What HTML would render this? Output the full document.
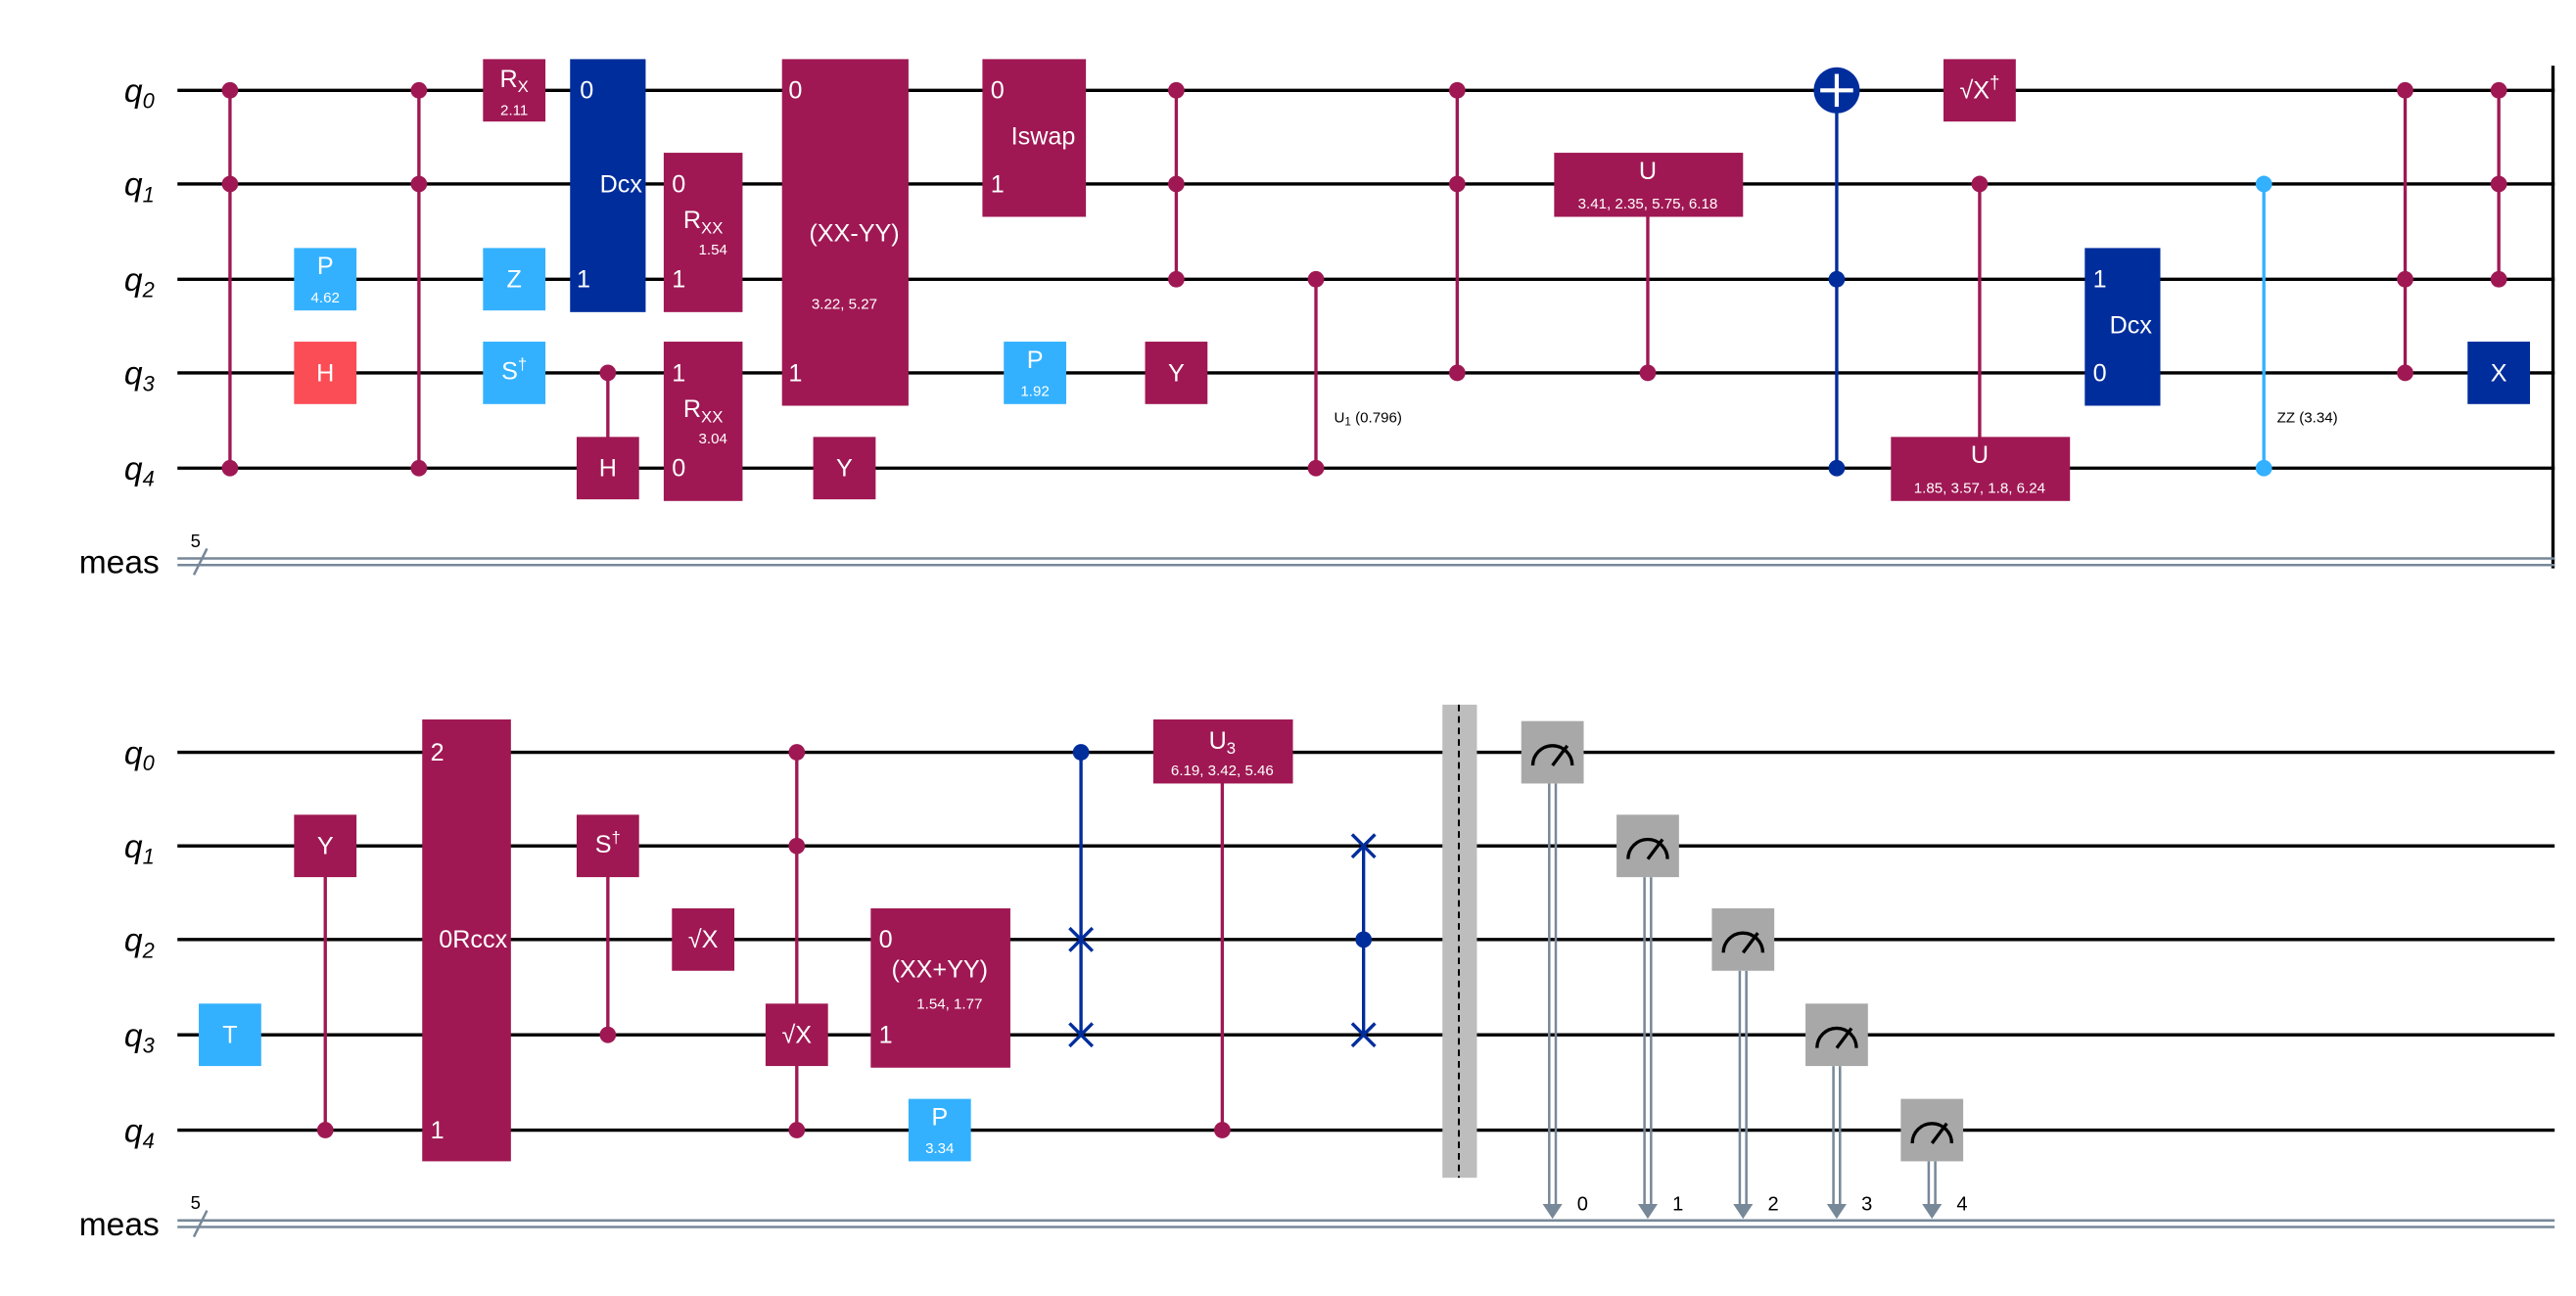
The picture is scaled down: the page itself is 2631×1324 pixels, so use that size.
<!DOCTYPE html>
<html><head><meta charset="utf-8"><style>
html,body{margin:0;padding:0;background:#fff;width:2631px;height:1324px;overflow:hidden}
svg{display:block}
text{font-family:"Liberation Sans","DejaVu Sans",sans-serif}
</style></head><body>
<svg width="2631" height="1324" viewBox="0 0 1568 789" preserveAspectRatio="none" xmlns="http://www.w3.org/2000/svg">
<rect width="1568" height="789" fill="#fff"/>
<g stroke="#000" stroke-width="2">
<line x1="108" y1="55" x2="1555" y2="55"/><line x1="108" y1="112" x2="1555" y2="112"/><line x1="108" y1="170" x2="1555" y2="170"/><line x1="108" y1="227" x2="1555" y2="227"/><line x1="108" y1="285" x2="1555" y2="285"/>
<line x1="108" y1="458" x2="1555" y2="458"/><line x1="108" y1="515" x2="1555" y2="515"/><line x1="108" y1="572" x2="1555" y2="572"/><line x1="108" y1="630" x2="1555" y2="630"/><line x1="108" y1="688" x2="1555" y2="688"/>
<line x1="1554" y1="40" x2="1554" y2="346"/>
</g>
<g stroke="#778899" stroke-width="1.5">
<line x1="108" y1="340" x2="1555" y2="340"/><line x1="108" y1="344" x2="1555" y2="344"/>
<line x1="108" y1="743" x2="1555" y2="743"/><line x1="108" y1="747" x2="1555" y2="747"/>
<line x1="118" y1="350" x2="126" y2="334"/><line x1="118" y1="753" x2="126" y2="737"/>
</g>
<g font-size="20" font-style="italic" text-anchor="end">
<text x="94" y="62">q<tspan font-size="13" dy="4">0</tspan></text>
<text x="94" y="119">q<tspan font-size="13" dy="4">1</tspan></text>
<text x="94" y="177">q<tspan font-size="13" dy="4">2</tspan></text>
<text x="94" y="234">q<tspan font-size="13" dy="4">3</tspan></text>
<text x="94" y="292">q<tspan font-size="13" dy="4">4</tspan></text>
<text x="94" y="465">q<tspan font-size="13" dy="4">0</tspan></text>
<text x="94" y="522">q<tspan font-size="13" dy="4">1</tspan></text>
<text x="94" y="579">q<tspan font-size="13" dy="4">2</tspan></text>
<text x="94" y="637">q<tspan font-size="13" dy="4">3</tspan></text>
<text x="94" y="695">q<tspan font-size="13" dy="4">4</tspan></text>
</g>
<g font-size="20" text-anchor="end"><text x="97" y="349">meas</text><text x="97" y="752">meas</text></g>
<g font-size="11"><text x="116" y="333">5</text><text x="116" y="736">5</text></g>

<!-- connectors -->
<g stroke="#9f1853" stroke-width="2">
<line x1="140" y1="55" x2="140" y2="285"/><line x1="255" y1="55" x2="255" y2="285"/>
<line x1="370" y1="227" x2="370" y2="285"/><line x1="716" y1="55" x2="716" y2="170"/>
<line x1="801" y1="170" x2="801" y2="285"/><line x1="887" y1="55" x2="887" y2="227"/>
<line x1="1003" y1="112" x2="1003" y2="227"/><line x1="1205" y1="112" x2="1205" y2="285"/>
<line x1="1464" y1="55" x2="1464" y2="227"/><line x1="1521" y1="55" x2="1521" y2="170"/>
<line x1="198" y1="515" x2="198" y2="688"/><line x1="370" y1="515" x2="370" y2="630"/>
<line x1="485" y1="458" x2="485" y2="688"/><line x1="744" y1="458" x2="744" y2="688"/>
</g>
<line x1="1118" y1="55" x2="1118" y2="285" stroke="#002d9c" stroke-width="2"/>
<line x1="1378" y1="112" x2="1378" y2="285" stroke="#33b1ff" stroke-width="2"/>
<line x1="658" y1="458" x2="658" y2="630" stroke="#002d9c" stroke-width="2"/>
<line x1="830" y1="515" x2="830" y2="630" stroke="#002d9c" stroke-width="2"/>

<!-- dots -->
<g fill="#9f1853">
<circle cx="140" cy="55" r="5"/><circle cx="140" cy="112" r="5"/><circle cx="140" cy="285" r="5"/>
<circle cx="255" cy="55" r="5"/><circle cx="255" cy="112" r="5"/><circle cx="255" cy="285" r="5"/>
<circle cx="370" cy="227" r="5"/>
<circle cx="716" cy="55" r="5"/><circle cx="716" cy="112" r="5"/><circle cx="716" cy="170" r="5"/>
<circle cx="801" cy="170" r="5"/><circle cx="801" cy="285" r="5"/>
<circle cx="887" cy="55" r="5"/><circle cx="887" cy="112" r="5"/><circle cx="887" cy="227" r="5"/>
<circle cx="1003" cy="227" r="5"/><circle cx="1205" cy="112" r="5"/>
<circle cx="1464" cy="55" r="5"/><circle cx="1464" cy="170" r="5"/><circle cx="1464" cy="227" r="5"/>
<circle cx="1521" cy="55" r="5"/><circle cx="1521" cy="112" r="5"/><circle cx="1521" cy="170" r="5"/>
<circle cx="198" cy="688" r="5"/><circle cx="370" cy="630" r="5"/>
<circle cx="485" cy="458" r="5"/><circle cx="485" cy="515" r="5"/><circle cx="485" cy="688" r="5"/>
<circle cx="744" cy="688" r="5"/>
</g>
<g fill="#002d9c"><circle cx="1118" cy="170" r="5"/><circle cx="1118" cy="285" r="5"/><circle cx="658" cy="458" r="5"/><circle cx="830" cy="572" r="5"/></g>
<g fill="#33b1ff"><circle cx="1378" cy="112" r="5"/><circle cx="1378" cy="285" r="5"/></g>

<!-- boxes -->
<g>
<rect x="179" y="151" width="38" height="38" fill="#33b1ff"/>
<rect x="179" y="208" width="38" height="38" fill="#fa4d56"/>
<rect x="294" y="36" width="38" height="38" fill="#9f1853"/>
<rect x="294" y="151" width="38" height="38" fill="#33b1ff"/>
<rect x="294" y="208" width="38" height="38" fill="#33b1ff"/>
<rect x="347" y="36" width="46" height="154" fill="#002d9c"/>
<rect x="351" y="266" width="38" height="38" fill="#9f1853"/>
<rect x="404" y="93" width="48" height="97" fill="#9f1853"/>
<rect x="404" y="208" width="48" height="97" fill="#9f1853"/>
<rect x="476" y="36" width="77" height="211" fill="#9f1853"/>
<rect x="495" y="266" width="38" height="38" fill="#9f1853"/>
<rect x="598" y="36" width="63" height="96" fill="#9f1853"/>
<rect x="611" y="208" width="38" height="38" fill="#33b1ff"/>
<rect x="697" y="208" width="38" height="38" fill="#9f1853"/>
<rect x="946" y="93" width="115" height="39" fill="#9f1853"/>
<rect x="1183" y="36" width="44" height="38" fill="#9f1853"/>
<rect x="1151" y="266" width="109" height="39" fill="#9f1853"/>
<rect x="1269" y="151" width="46" height="96" fill="#002d9c"/>
<rect x="1502" y="208" width="38" height="38" fill="#002d9c"/>
<rect x="121" y="611" width="38" height="38" fill="#33b1ff"/>
<rect x="179" y="496" width="38" height="38" fill="#9f1853"/>
<rect x="257" y="438" width="54" height="269" fill="#9f1853"/>
<rect x="351" y="496" width="38" height="38" fill="#9f1853"/>
<rect x="409" y="553" width="38" height="38" fill="#9f1853"/>
<rect x="466" y="611" width="38" height="38" fill="#9f1853"/>
<rect x="530" y="553" width="85" height="97" fill="#9f1853"/>
<rect x="553" y="669" width="38" height="38" fill="#33b1ff"/>
<rect x="702" y="438" width="85" height="39" fill="#9f1853"/>
</g>
<circle cx="1118" cy="55" r="14" fill="#002d9c"/>
<g stroke="#fff" stroke-width="2.5"><line x1="1108" y1="55" x2="1128" y2="55"/><line x1="1118" y1="45" x2="1118" y2="65"/></g>
<g stroke="#002d9c" stroke-width="2">
<path d="M651 565l14 14M665 565l-14 14M651 623l14 14M665 623l-14 14M823 508l14 14M837 508l-14 14M823 623l14 14M837 623l-14 14"/>
</g>

<!-- box labels -->
<g fill="#fff" font-size="15" text-anchor="middle">
<text x="198" y="167">P</text><text x="198" y="232">H</text>
<text x="313" y="53">R<tspan font-size="10" dy="3">X</tspan></text>
<text x="313" y="175">Z</text><text x="313" y="231">S<tspan font-size="10" dy="-6">†</tspan></text>
<text x="378" y="117">Dcx</text><text x="370" y="290">H</text>
<text x="428" y="139">R<tspan font-size="10" dy="3">XX</tspan></text>
<text x="428" y="254">R<tspan font-size="10" dy="3">XX</tspan></text>
<text x="520" y="147">(XX-YY)</text>
<text x="514" y="290">Y</text>
<text x="635" y="88">Iswap</text>
<text x="630" y="224">P</text><text x="716" y="232">Y</text>
<text x="1003" y="109">U</text><text x="1205" y="282">U</text>
<text x="1205" y="60">√X<tspan font-size="11" dy="-6">†</tspan></text>
<text x="1297" y="203">Dcx</text><text x="1521" y="232">X</text>
<text x="140" y="635">T</text><text x="198" y="520">Y</text>
<text x="288" y="577">0Rccx</text>
<text x="370" y="519">S<tspan font-size="10" dy="-6">†</tspan></text>
<text x="428" y="577">√X</text><text x="485" y="635">√X</text>
<text x="572" y="595">(XX+YY)</text>
<text x="572" y="685">P</text>
<text x="744" y="456">U<tspan font-size="10" dy="3">3</tspan></text>
</g>
<g fill="#fff" font-size="15">
<text x="353" y="60">0</text><text x="351" y="175">1</text>
<text x="409" y="117">0</text><text x="409" y="175">1</text>
<text x="409" y="232">1</text><text x="409" y="290">0</text>
<text x="480" y="60">0</text><text x="480" y="232">1</text>
<text x="603" y="60">0</text><text x="603" y="117">1</text>
<text x="1274" y="175">1</text><text x="1274" y="232">0</text>
<text x="262" y="463">2</text><text x="262" y="693">1</text>
<text x="535" y="577">0</text><text x="535" y="635">1</text>
</g>
<g fill="#fff" font-size="9" text-anchor="middle">
<text x="198" y="184">4.62</text><text x="313" y="70">2.11</text>
<text x="434" y="155">1.54</text><text x="434" y="270">3.04</text>
<text x="514" y="188">3.22, 5.27</text><text x="630" y="241">1.92</text>
<text x="1003" y="127">3.41, 2.35, 5.75, 6.18</text>
<text x="1205" y="300">1.85, 3.57, 1.8, 6.24</text>
<text x="578" y="614">1.54, 1.77</text><text x="572" y="702">3.34</text>
<text x="744" y="472">6.19, 3.42, 5.46</text>
</g>
<g font-size="9"><text x="812" y="257">U<tspan font-size="7" dy="2">1</tspan><tspan dy="-2"> (0.796)</tspan></text><text x="1386" y="257">ZZ (3.34)</text></g>

<!-- barrier -->
<rect x="878" y="429" width="21" height="288" fill="#bdbdbd"/>
<line x1="888" y1="429" x2="888" y2="717" stroke="#000" stroke-width="1.2" stroke-dasharray="4,3"/>

<!-- measures -->
<g>
<g id="m0">
</g>
</g>
<g stroke="#778899" stroke-width="1.5" fill="none">
<path d="M943 477V735M947 477V735M1001 534V735M1005 534V735M1059 591V735M1063 591V735M1116 649V735M1120 649V735M1174 707V735M1178 707V735"/>
</g>
<g fill="#778899">
<path d="M939 733h12l-6 9z M997 733h12l-6 9z M1055 733h12l-6 9z M1112 733h12l-6 9z M1170 733h12l-6 9z"/>
</g>
<g fill="#a8a8a8">
<rect x="926" y="439" width="38" height="38"/><rect x="984" y="496" width="38" height="38"/>
<rect x="1042" y="553" width="38" height="38"/><rect x="1099" y="611" width="38" height="38"/>
<rect x="1157" y="669" width="38" height="38"/>
</g>
<g stroke="#000" stroke-width="2" fill="none">
<path d="M933 466a12 12 0 0 1 24 0M945 466l9-12"/>
<path d="M991 523a12 12 0 0 1 24 0M1003 523l9-12"/>
<path d="M1049 580a12 12 0 0 1 24 0M1061 580l9-12"/>
<path d="M1106 638a12 12 0 0 1 24 0M1118 638l9-12"/>
<path d="M1164 696a12 12 0 0 1 24 0M1176 696l9-12"/>
</g>
<g font-size="12"><text x="960" y="737">0</text><text x="1018" y="737">1</text><text x="1076" y="737">2</text><text x="1133" y="737">3</text><text x="1191" y="737">4</text></g>
</svg>
</body></html>
